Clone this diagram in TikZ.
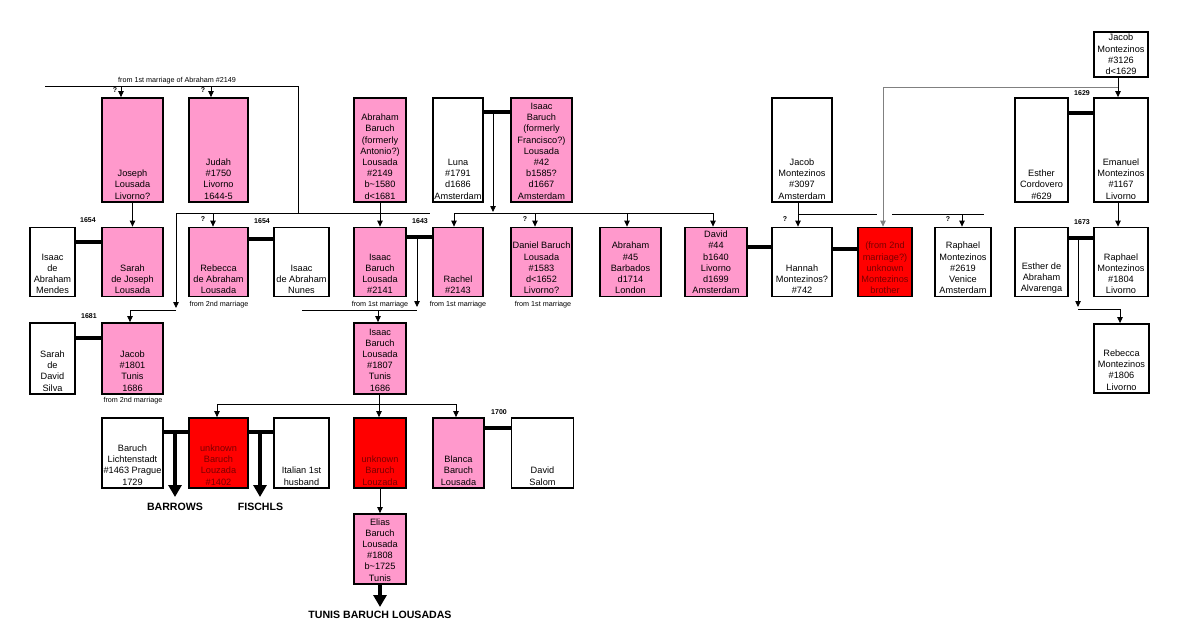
\documentclass[tikz,border=0pt]{standalone}
\usepackage{fontspec}
\setmainfont{Liberation Sans}
\usetikzlibrary{arrows.meta}
\definecolor{rose}{HTML}{FF99CC}
\definecolor{deepred}{HTML}{FF0000}
\definecolor{redtext}{HTML}{7A0000}
\definecolor{wire}{HTML}{808080}

\begin{document}
\begin{tikzpicture}[x=1pt,y=-1pt,
  person/.style={draw, line width=1.8pt, inner sep=0pt, fill=white},
  rosebox/.style={person, fill=rose},
  redbox/.style={person, fill=deepred},
  tall/.style={minimum height=104pt},
  short/.style={minimum height=69pt},
  names/.style={font=\fontsize{9.2}{11.2}\selectfont, align=center, inner sep=0pt},
  foot/.style={names, anchor=south, yshift=3.5pt},
  wed/.style={line width=4.5pt},
  link/.style={line width=0.8pt},
  kid/.style={link, -{Triangle[width=5.5pt,length=6pt]}},
  fat/.style={line width=4.5pt, -{Triangle[width=13pt,length=12pt]}},
  note/.style={font=\fontsize{7.2}{8}\selectfont, inner sep=0pt},
  yr/.style={font=\bfseries\fontsize{7}{8}\selectfont, inner sep=0pt},
  big/.style={font=\bfseries\fontsize{10.6}{12}\selectfont, inner sep=0pt}]
\useasboundingbox (0,0) rectangle (1177,633);

% first row
\node[rosebox, tall, minimum width=61pt] (joseph) at (132.5,150) {};
\node[foot] (joseph-t) at (joseph.south) {Joseph\\Lousada\\Livorno?};
\node[rosebox, tall, minimum width=59pt] (judah) at (218.5,150) {};
\node[foot] (judah-t) at (judah.south) {Judah\\\#1750\\Livorno\\1644-5};
\node[rosebox, tall, minimum width=52pt] (abraham) at (380,150) {};
\node[foot] (abraham-t) at (abraham.south) {Abraham\\Baruch\\(formerly\\Antonio?)\\Lousada\\\#2149\\b\textasciitilde1580\\d<1681};
\node[person, tall, minimum width=50pt] (luna) at (458,150) {};
\node[foot] (luna-t) at (luna.south) {Luna\\\#1791\\d1686\\Amsterdam};
\node[rosebox, tall, minimum width=61pt] (isaacf) at (541.5,150) {};
\node[foot] (isaacf-t) at (isaacf.south) {Isaac\\Baruch\\(formerly\\Francisco?)\\Lousada\\\#42\\b1585?\\d1667\\Amsterdam};
\node[person, tall, minimum width=60pt] (jacobm) at (802,150) {};
\node[foot] (jacobm-t) at (jacobm.south) {Jacob\\Montezinos\\\#3097\\Amsterdam};
\node[person, tall, minimum width=53pt] (esterc) at (1041.5,150) {};
\node[foot] (esterc-t) at (esterc.south) {Esther\\Cordovero\\\#629};
\node[person, tall, minimum width=54pt] (emanuel) at (1121,150) {};
\node[foot] (emanuel-t) at (emanuel.south) {Emanuel\\Montezinos\\\#1167\\Livorno};
\node[person, minimum width=54pt, minimum height=45pt] (jacobo) at (1121,54.5) {};
\node[names] (jacobo-t) at (jacobo) {Jacob\\Montezinos\\\#3126\\d<1629};

% second row
\node[person, short, minimum width=45pt] (mendes) at (52.5,262) {};
\node[foot] (mendes-t) at (mendes.south) {Isaac\\de\\Abraham\\Mendes};
\node[rosebox, short, minimum width=61pt] (sarah) at (132.5,262) {};
\node[foot] (sarah-t) at (sarah.south) {Sarah\\de Joseph\\Lousada};
\node[rosebox, short, minimum width=59pt] (rebecca) at (218.5,262) {};
\node[foot] (rebecca-t) at (rebecca.south) {Rebecca\\de Abraham\\Lousada};
\node[person, short, minimum width=55pt] (nunes) at (301.5,262) {};
\node[foot] (nunes-t) at (nunes.south) {Isaac\\de Abraham\\Nunes};
\node[rosebox, short, minimum width=52pt] (isaacb) at (380,262) {};
\node[foot] (isaacb-t) at (isaacb.south) {Isaac\\Baruch\\Lousada\\\#2141};
\node[rosebox, short, minimum width=50pt] (rachel) at (458,262) {};
\node[foot] (rachel-t) at (rachel.south) {Rachel\\\#2143};
\node[rosebox, short, minimum width=61pt] (daniel) at (541.5,262) {};
\node[foot] (daniel-t) at (daniel.south) {Daniel Baruch\\Lousada\\\#1583\\d<1652\\Livorno?};
\node[rosebox, short, minimum width=61pt] (abrahamb) at (630.5,262) {};
\node[foot] (abrahamb-t) at (abrahamb.south) {Abraham\\\#45\\Barbados\\d1714\\London};
\node[rosebox, short, minimum width=62pt] (david) at (716,262) {};
\node[foot] (david-t) at (david.south) {David\\\#44\\b1640\\Livorno\\d1699\\Amsterdam};
\node[person, short, minimum width=60pt] (hannah) at (802,262) {};
\node[foot] (hannah-t) at (hannah.south) {Hannah\\Montezinos?\\\#742};
\node[redbox, short, minimum width=54pt] (brother) at (885,262) {};
\node[foot, text=redtext] (brother-t) at (brother.south) {(from 2nd\\marriage?)\\unknown\\Montezinos\\brother};
\node[person, short, minimum width=56pt] (raphaelv) at (963,262) {};
\node[foot] (raphaelv-t) at (raphaelv.south) {Raphael\\Montezinos\\\#2619\\Venice\\Amsterdam};
\node[person, short, minimum width=53pt] (estera) at (1041.5,262) {};
\node[foot] (estera-t) at (estera.south) {Esther de\\Abraham\\Alvarenga};
\node[person, short, minimum width=54pt] (raphaell) at (1121,262) {};
\node[foot] (raphaell-t) at (raphaell.south) {Raphael\\Montezinos\\\#1804\\Livorno};

% third row
\node[person, minimum height=71pt, minimum width=45pt] (silva) at (52.5,358.5) {};
\node[foot] (silva-t) at (silva.south) {Sarah\\de\\David\\Silva};
\node[rosebox, minimum height=71pt, minimum width=61pt] (jacobtu) at (132.5,358.5) {};
\node[foot] (jacobtu-t) at (jacobtu.south) {Jacob\\\#1801\\Tunis\\1686};
\node[rosebox, minimum height=71pt, minimum width=52pt] (isaact) at (380,358.5) {};
\node[foot] (isaact-t) at (isaact.south) {Isaac\\Baruch\\Lousada\\\#1807\\Tunis\\1686};
\node[person, minimum height=69pt, minimum width=55pt] (rebeccam) at (1121.5,358.5) {};
\node[foot] (rebeccam-t) at (rebeccam.south) {Rebecca\\Montezinos\\\#1806\\Livorno};

% fourth row
\node[person, minimum height=70pt, minimum width=61pt] (lichten) at (132.5,453) {};
\node[foot] (lichten-t) at (lichten.south) {Baruch\\Lichtenstadt\\\#1463 Prague\\1729};
\node[redbox, minimum height=70pt, minimum width=59pt] (unkbl) at (218.5,453) {};
\node[foot, text=redtext] (unkbl-t) at (unkbl.south) {unknown\\Baruch\\Louzada\\\#1402};
\node[person, minimum height=70pt, minimum width=55pt] (italian) at (301.5,453) {};
\node[foot] (italian-t) at (italian.south) {Italian 1st\\husband};
\node[redbox, minimum height=70pt, minimum width=52pt] (unkbz) at (380,453) {};
\node[foot, text=redtext] (unkbz-t) at (unkbz.south) {unknown\\Baruch\\Louzada};
\node[rosebox, minimum height=70pt, minimum width=51pt] (blanca) at (458.5,453) {};
\node[foot] (blanca-t) at (blanca.south) {Blanca\\Baruch\\Lousada};
\node[person, minimum height=70pt, minimum width=62pt] (salom) at (542.5,453) {};
\node[foot] (salom-t) at (salom.south) {David\\Salom};

% fifth row
\node[rosebox, minimum height=70pt, minimum width=52pt] (elias) at (380,549) {};
\node[foot] (elias-t) at (elias.south) {Elias\\Baruch\\Lousada\\\#1808\\b\textasciitilde1725\\Tunis};

% marriages
\draw[wed] (mendes.east |- 0,242) -- (sarah.west |- 0,242);
\draw[wed] (rebecca.east |- 0,239) -- (nunes.west |- 0,239);
\draw[wed] (isaacb.east |- 0,237) -- (rachel.west |- 0,237);
\draw[wed] (luna.east |- 0,112) -- (isaacf.west |- 0,112);
\draw[wed] (david.east |- 0,247) -- (hannah.west |- 0,247);
\draw[wed] (hannah.east |- 0,249) -- (brother.west |- 0,249);
\draw[wed] (esterc.east |- 0,113) -- (emanuel.west |- 0,113);
\draw[wed] (estera.east |- 0,238) -- (raphaell.west |- 0,238);
\draw[wed] (silva.east |- 0,338) -- (jacobtu.west |- 0,338);
\draw[wed] (lichten.east |- 0,432) -- (unkbl.west |- 0,432);
\draw[wed] (unkbl.east |- 0,432) -- (italian.west |- 0,432);
\draw[wed] (blanca.east |- 0,428) -- (salom.west |- 0,428);

\node[yr] (y1) at (88,220) {1654};
\node[yr] (y2) at (262,221) {1654};
\node[yr] (y3) at (420,221) {1643};
\node[yr] (y4) at (1082,93) {1629};
\node[yr] (y5) at (1082,222) {1673};
\node[yr] (y6) at (89,316) {1681};
\node[yr] (y7) at (499,412) {1700};

% children of Abraham #2149
\coordinate (fa) at (45,86);
\coordinate (fb) at (298,86);
\coordinate (fc) at (298,213);
\draw[link] (fa) -- (fb) -- (fc);
\node[note, anchor=south, yshift=1.5pt] (fm) at (177,86) {from 1st marriage of Abraham \#2149};
\coordinate (jo) at (121,86);
\draw[kid] (jo) -- (jo |- joseph.north);
\coordinate (ju) at (211,86);
\draw[kid] (ju) -- (ju |- judah.north);
\coordinate (la) at (176,213);
\coordinate (lb) at (430,213);
\draw[link] (la) -- (lb);
\coordinate (re) at (213,213);
\draw[kid] (re) -- (re |- rebecca.north);
\draw[kid] (la) -- (176,308);
\coordinate (ld) at (176,310);
\coordinate (le) at (130,310);
\draw[link] (ld) -- (le);
\draw[kid] (le) -- (le |- jacobtu.north);
\draw[kid] (abraham.south) -- (isaacb.north);
\draw[kid] (joseph.south) -- (sarah.north);

% children of Isaac #42 and Luna
\coordinate (lm) at (493,112);
\draw[kid] (lm) -- (493,212);
\coordinate (ba) at (454,213);
\coordinate (bb) at (713,213);
\draw[link] (ba) -- (bb);
\draw[kid] (ba) -- (ba |- rachel.north);
\coordinate (bd) at (535,213);
\draw[kid] (bd) -- (bd |- daniel.north);
\coordinate (bx) at (627,213);
\draw[kid] (bx) -- (bx |- abrahamb.north);
\draw[kid] (bb) -- (bb |- david.north);

% child of Isaac #2141 and Rachel
\coordinate (im) at (417,237);
\draw[kid] (im) -- (417,307);
\draw[link] (302,310) -- (417,310);
\coordinate (ic) at (378,310);
\draw[kid] (ic) -- (ic |- isaact.north);

% children of Isaac #1807
\coordinate (ta) at (379,404);
\draw[link] (isaact.south -| ta) -- (ta);
\coordinate (tl) at (217,404);
\coordinate (tr) at (456,404);
\draw[link] (tl) -- (tr);
\draw[kid] (tl) -- (tl |- unkbl.north);
\draw[kid] (ta) -- (ta |- unkbz.north);
\draw[kid] (tr) -- (tr |- blanca.north);
\draw[kid] (unkbz.south) -- (elias.north);

% Montezinos
\coordinate (jm) at (798,214);
\draw[kid] (jm |- jacobm.south) -- (jm |- hannah.north);
\draw[link] (jm) -- (877,214);
\draw[link] (892,214) -- (984,214);
\coordinate (rv) at (962,214);
\draw[kid] (rv) -- (rv |- raphaelv.north);
\coordinate (ja) at (1118,87);
\coordinate (jb) at (883,87);
\draw[kid] (ja |- jacobo.south) -- (ja |- emanuel.north);
\draw[link, wire] (ja) -- (jb);
\draw[kid, wire] (jb) -- (jb |- brother.north);
\draw[kid] (emanuel.south -| ja) -- (raphaell.north -| ja);
\coordinate (ea) at (1078,238);
\draw[kid] (ea) -- (1078,307);
\coordinate (eb) at (1120,309);
\draw[link] (1078,309) -- (eb);
\draw[kid] (eb) -- (eb |- rebeccam.north);

% question marks
\node[yr] (q1) at (115,90) {?};
\node[yr] (q2) at (203,90) {?};
\node[yr] (q3) at (203,219) {?};
\node[yr] (q4) at (525,219) {?};
\node[yr] (q5) at (785,219) {?};
\node[yr] (q6) at (948,219) {?};

% marriage notes
\node[note] (n1) at (219,305) {from 2nd marriage};
\node[note] (n2) at (380,305) {from 1st marriage};
\node[note] (n3) at (458,305) {from 1st marriage};
\node[note] (n4) at (543,305) {from 1st marriage};
\node[note] (n5) at (133,401) {from 2nd marriage};

% descendants
\coordinate (da) at (175,432);
\draw[fat] (da) -- (175,497);
\coordinate (db) at (260,432);
\draw[fat] (db) -- (260,497);
\draw[fat] (elias.south) -- (380,607);
\node[big] (barrows) at (175,507) {BARROWS};
\node[big] (fischls) at (260.5,507) {FISCHLS};
\node[big] (tunis) at (380,615) {TUNIS BARUCH LOUSADAS};
\end{tikzpicture}
\end{document}
